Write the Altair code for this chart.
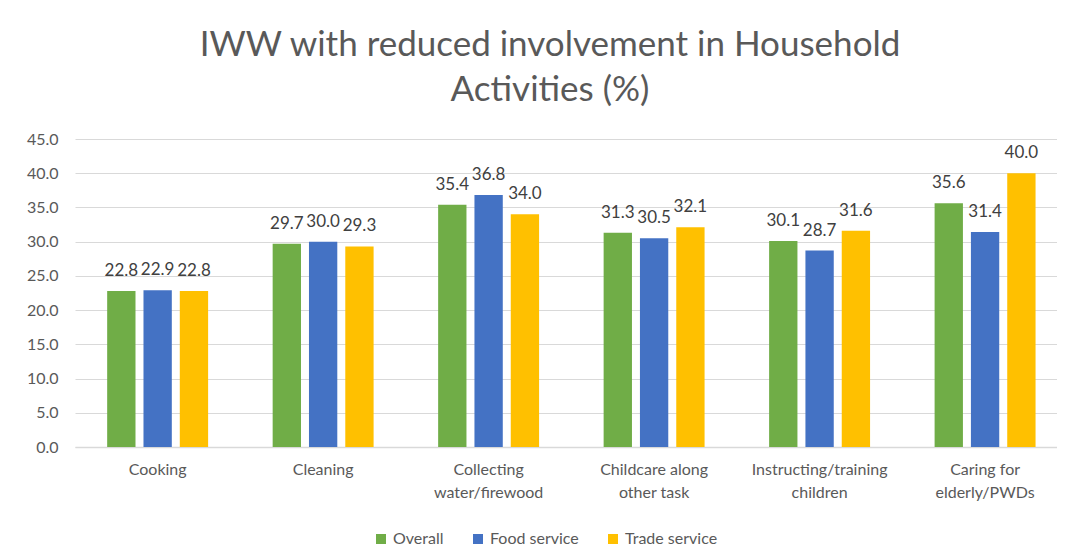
import altair as alt
import pandas as pd

categories = ["Cooking", "Cleaning", "Collecting\nwater/firewood", "Childcare along\nother task",
              "Instructing/training\nchildren", "Caring for\nelderly/PWDs"]
series = ["Overall", "Food service", "Trade service"]
overall = [22.8, 29.7, 35.4, 31.3, 30.1, 35.6]
food = [22.9, 30.0, 36.8, 30.5, 28.7, 31.4]
trade = [22.8, 29.3, 34.0, 32.1, 31.6, 40.0]
colors = ["#70AD47", "#4472C4", "#FFC000"]
y_ticks = [0, 5, 10, 15, 20, 25, 30, 35, 40, 45]

rows = []
for s, vals in zip(series, [overall, food, trade]):
    for c, v in zip(categories, vals):
        rows.append({"cat": c, "series": s, "value": v})
df = pd.DataFrame(rows)

FONT = "Lato"
GREY = "#595959"

xenc = alt.X("cat:N", sort=categories, title=None,
             scale=alt.Scale(paddingInner=0.39, paddingOuter=0.162, align=0.6),
             axis=alt.Axis(labelExpr="split(datum.label, '\\n')", labelAngle=0,
                           labelFontSize=16, labelColor=GREY, labelFont=FONT,
                           labelPadding=14, labelLineHeight=23, ticks=False,
                           domainColor="#d9d9d9", domainWidth=1.5, grid=False))
xoff = alt.XOffset("series:N", sort=series, scale=alt.Scale(paddingInner=0.22, paddingOuter=0))
yenc = alt.Y("value:Q", title=None,
             scale=alt.Scale(domain=[0, 45], nice=False, zero=True),
             axis=alt.Axis(values=y_ticks, format=".1f", labelFontSize=16, labelColor=GREY,
                           labelFont=FONT, labelPadding=17, ticks=False, domain=False,
                           labelOverlap=False, gridColor="#d9d9d9", gridWidth=1.2))

bars = alt.Chart(df).mark_bar().encode(
    x=xenc, xOffset=xoff, y=yenc,
    color=alt.Color("series:N", sort=series,
                    scale=alt.Scale(domain=series, range=colors),
                    legend=alt.Legend(title=None, orient="none", direction="horizontal",
                                      legendX=298, legendY=392, symbolType="square",
                                      symbolSize=100, symbolStrokeWidth=0,
                                      labelFontSize=16, labelColor=GREY, labelFont=FONT,
                                      columnPadding=26, labelOffset=4)),
)

labels = alt.Chart(df).mark_text(baseline="middle", dy=-20, fontSize=17,
                                 color="#404040", font=FONT).encode(
    x=xenc, xOffset=xoff, y=yenc,
    text=alt.Text("value:Q", format=".1f"),
)

chart = alt.layer(bars, labels).properties(
    width=982, height=308,
    title=alt.TitleParams(["IWW with reduced involvement in Household", "Activities (%)"],
                          fontSize=35, font=FONT, color=GREY, fontWeight="normal",
                          lineHeight=45, anchor="middle", offset=23, dx=-16),
    autosize=alt.AutoSizeParams(type="none"),
    padding={"left": 67, "top": 131, "right": 0, "bottom": 100},
).configure_view(stroke=None)

chart.save("out.html", embed_options={"renderer": "svg", "actions": False})
